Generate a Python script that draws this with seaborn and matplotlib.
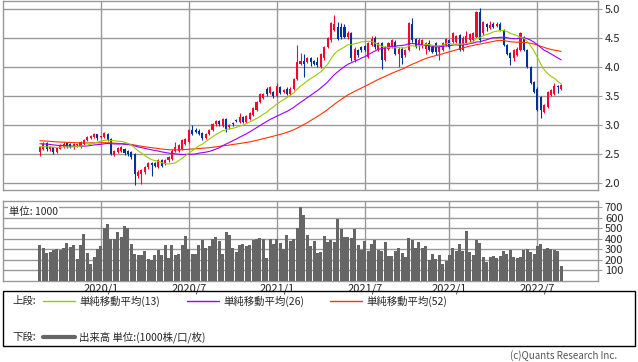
import numpy as np
import pandas as pd
import seaborn as sns
import matplotlib.pyplot as plt
from matplotlib.lines import Line2D
from matplotlib.patches import Rectangle

# weekly candles (left to right)
opens = [2.54, 2.59, 2.69, 2.58, 2.62, 2.54, 2.59, 2.62, 2.69, 2.68, 2.62, 2.65, 2.62, 2.68, 2.74, 2.78, 2.79, 2.84, 2.79, 2.79,
         2.85, 2.76, 2.48, 2.54, 2.56, 2.58, 2.55, 2.54, 2.50, 2.13, 2.16, 2.19, 2.27, 2.35, 2.35, 2.28, 2.39, 2.33, 2.39, 2.42,
         2.56, 2.56, 2.59, 2.68, 2.71, 2.91, 2.91, 2.90, 2.86, 2.78, 2.85, 2.91, 3.01, 3.07, 2.99, 3.11, 2.96, 3.04, 3.09, 3.05,
         3.14, 3.05, 3.11, 3.17, 3.26, 3.40, 3.47, 3.63, 3.55, 3.57, 3.51, 3.65, 3.57, 3.63, 3.54, 3.63, 3.79, 4.06, 4.10, 4.09,
         4.16, 4.11, 4.09, 4.00, 4.15, 4.35, 4.46, 4.64, 4.69, 4.69, 4.69, 4.52, 4.58, 4.12, 4.29, 4.35, 4.36, 4.18, 4.38, 4.51,
         4.30, 4.41, 4.12, 4.32, 4.35, 4.44, 4.23, 4.32, 4.20, 4.29, 4.75, 4.49, 4.38, 4.38, 4.32, 4.42, 4.35, 4.41, 4.26, 4.29,
         4.38, 4.46, 4.44, 4.44, 4.55, 4.30, 4.42, 4.46, 4.46, 4.52, 4.95, 4.58, 4.74, 4.67, 4.75, 4.71, 4.75, 4.64, 4.38, 4.24,
         4.15, 4.21, 4.29, 4.52, 4.29, 4.00, 3.74, 3.63, 3.49, 3.23, 3.31, 3.52, 3.54, 3.67, 3.63]
closes = [2.62, 2.68, 2.59, 2.62, 2.54, 2.60, 2.65, 2.68, 2.62, 2.62, 2.67, 2.66, 2.71, 2.74, 2.80, 2.82, 2.84, 2.77, 2.80, 2.86,
          2.74, 2.50, 2.55, 2.60, 2.62, 2.51, 2.50, 2.45, 2.16, 2.19, 2.22, 2.28, 2.35, 2.31, 2.30, 2.39, 2.30, 2.39, 2.45, 2.56,
          2.62, 2.65, 2.74, 2.76, 2.91, 2.85, 2.88, 2.85, 2.77, 2.85, 2.92, 3.01, 3.07, 3.01, 3.11, 2.94, 3.00, 3.01, 3.07, 3.14,
          3.05, 3.15, 3.20, 3.30, 3.40, 3.53, 3.53, 3.54, 3.65, 3.50, 3.67, 3.55, 3.61, 3.54, 3.63, 3.80, 4.09, 4.10, 4.06, 4.16,
          4.09, 4.06, 4.03, 4.22, 4.35, 4.50, 4.76, 4.75, 4.48, 4.52, 4.52, 4.58, 4.15, 4.32, 4.21, 4.29, 4.30, 4.42, 4.48, 4.35,
          4.41, 4.12, 4.35, 4.42, 4.46, 4.23, 4.32, 4.15, 4.29, 4.76, 4.46, 4.35, 4.46, 4.46, 4.41, 4.29, 4.26, 4.26, 4.35, 4.41,
          4.48, 4.35, 4.58, 4.53, 4.30, 4.51, 4.53, 4.57, 4.58, 4.95, 4.46, 4.78, 4.69, 4.72, 4.69, 4.75, 4.64, 4.38, 4.23, 4.15,
          4.29, 4.32, 4.58, 4.29, 4.00, 3.72, 3.57, 3.26, 3.26, 3.34, 3.57, 3.60, 3.67, 3.65, 3.69]
highs = [2.64, 2.70, 2.71, 2.64, 2.63, 2.62, 2.67, 2.70, 2.71, 2.69, 2.69, 2.68, 2.73, 2.76, 2.81, 2.83, 2.86, 2.85, 2.82, 2.88,
         2.87, 2.77, 2.57, 2.63, 2.64, 2.60, 2.57, 2.56, 2.52, 2.22, 2.24, 2.30, 2.37, 2.36, 2.37, 2.41, 2.42, 2.41, 2.47, 2.58,
         2.71, 2.68, 2.76, 2.78, 2.93, 3.00, 2.95, 2.93, 2.88, 2.87, 2.94, 3.03, 3.09, 3.09, 3.13, 3.13, 3.02, 3.06, 3.11, 3.20,
         3.16, 3.17, 3.22, 3.32, 3.42, 3.55, 3.55, 3.65, 3.67, 3.59, 3.72, 3.67, 3.63, 3.65, 3.65, 3.82, 4.38, 4.24, 4.23, 4.18,
         4.18, 4.13, 4.18, 4.25, 4.37, 4.52, 4.78, 4.90, 4.78, 4.76, 4.74, 4.62, 4.60, 4.34, 4.31, 4.37, 4.38, 4.44, 4.53, 4.53,
         4.43, 4.43, 4.37, 4.44, 4.48, 4.46, 4.34, 4.34, 4.31, 4.78, 4.84, 4.51, 4.50, 4.48, 4.43, 4.46, 4.37, 4.43, 4.37, 4.43,
         4.50, 4.48, 4.60, 4.56, 4.57, 4.53, 4.62, 4.59, 4.60, 4.97, 5.02, 4.80, 4.76, 4.80, 4.77, 4.77, 4.77, 4.66, 4.40, 4.26,
         4.31, 4.34, 4.60, 4.54, 4.31, 4.02, 3.76, 3.65, 3.51, 3.36, 3.59, 3.62, 3.72, 3.69, 3.71]
lows = [2.47, 2.57, 2.56, 2.56, 2.50, 2.52, 2.58, 2.61, 2.60, 2.60, 2.59, 2.62, 2.60, 2.66, 2.72, 2.76, 2.78, 2.75, 2.77, 2.77,
        2.72, 2.48, 2.46, 2.52, 2.54, 2.49, 2.46, 2.42, 1.96, 2.08, 1.99, 2.16, 2.24, 2.12, 2.28, 2.26, 2.28, 2.31, 2.37, 2.40,
        2.54, 2.54, 2.57, 2.66, 2.69, 2.83, 2.86, 2.83, 2.75, 2.76, 2.83, 2.89, 2.99, 2.99, 2.97, 2.88, 2.94, 2.99, 3.05, 3.03,
        3.03, 3.03, 3.09, 3.15, 3.24, 3.38, 3.45, 3.50, 3.53, 3.47, 3.49, 3.53, 3.55, 3.52, 3.52, 3.61, 3.77, 4.04, 3.83, 4.07,
        4.02, 4.03, 4.00, 3.98, 4.13, 4.33, 4.44, 4.62, 4.46, 4.49, 4.50, 4.48, 4.10, 4.08, 4.17, 4.26, 4.27, 4.16, 4.36, 4.32,
        4.28, 3.96, 4.10, 4.30, 4.33, 4.21, 4.00, 4.05, 4.18, 4.27, 4.44, 4.33, 4.30, 4.33, 4.22, 4.27, 4.24, 4.20, 4.12, 4.27,
        4.36, 4.33, 4.42, 4.42, 4.28, 4.28, 4.40, 4.44, 4.44, 4.50, 4.44, 4.56, 4.62, 4.65, 4.67, 4.69, 4.62, 4.36, 4.21, 4.03,
        4.10, 4.19, 4.27, 4.27, 3.98, 3.70, 3.55, 3.24, 3.13, 3.21, 3.29, 3.50, 3.52, 3.56, 3.61]

# weekly closes before the first visible candle (only feed the moving averages)
prior_close = [2.80, 2.78, 2.82, 2.85, 2.83, 2.79, 2.76, 2.80, 2.84, 2.81, 2.77, 2.74, 2.78, 2.80, 2.76, 2.73, 2.75,
               2.79, 2.81, 2.78, 2.74, 2.72, 2.76, 2.79, 2.77, 2.75, 2.74, 2.71, 2.73, 2.77, 2.75, 2.72, 2.70, 2.74,
               2.76, 2.73, 2.71, 2.69, 2.72, 2.66, 2.63, 2.60, 2.64, 2.67, 2.62, 2.59, 2.61, 2.65, 2.63, 2.60, 2.62]

# volume, units of 1000
volume = [340, 315, 268, 280, 290, 300, 290, 310, 365, 320, 340, 210, 340, 450, 270, 165, 230, 300,
          330, 500, 540, 400, 400, 470, 420, 520, 500, 355, 260, 245, 245, 285, 205, 200, 245, 290, 250, 340, 215, 340, 245, 260, 340, 425,
          300, 260, 260, 340, 385, 310, 330, 400, 420, 380, 260, 470, 435, 315, 275, 340, 350, 330, 340, 385, 395, 405, 395, 215, 395, 355,
          400, 360, 300, 435, 380, 395, 500, 700, 630, 440, 335, 380, 270,
          277, 425, 372, 387, 372, 592, 498, 419, 419, 410, 498, 340, 299, 378, 283, 356, 387, 299, 283, 372,
          236, 236, 283, 315, 268, 230, 410, 394, 309, 372, 315, 331, 198, 255, 205, 246, 161, 192, 246, 318,
          287, 350, 283, 472, 277, 246, 387, 365, 230, 183, 230, 236, 220, 236, 283, 261, 293, 230, 220, 230,
          299, 302, 271, 261, 331, 350, 302, 315, 302, 299, 283, 142]

tick_pos = [18, 44, 70, 96, 121, 147]
tick_labels = ["2020/1", "2020/7", "2021/1", "2021/7", "2022/1", "2022/7"]
price_ticks = [2.0, 2.5, 3.0, 3.5, 4.0, 4.5, 5.0]
vol_ticks = [100, 200, 300, 400, 500, 600, 700]

sns.set_style("white")
plt.rcParams['font.family'] = ['Noto Sans CJK JP', 'DejaVu Sans']

df = pd.DataFrame({"open": opens, "high": highs, "low": lows, "close": closes, "vol": volume})
df["x"] = np.arange(len(df))
allc = pd.Series(prior_close + closes)
n0 = len(prior_close)
df["ma13"] = allc.rolling(13).mean().iloc[n0:].values
df["ma26"] = allc.rolling(26).mean().iloc[n0:].values
df["ma52"] = allc.rolling(52).mean().iloc[n0:].values

UP = "#ff0033"
DOWN = "#003399"
GRID = "#999999"

fig = plt.figure(figsize=(6.38, 3.62), dpi=100)
ax = fig.add_axes([3/638, 172/362, 595/638, 189/362])
axv = fig.add_axes([3/638, 81/362, 595/638, 80/362])

xlim = (-10.9, len(df) - 1 + 10.9)

for a in (ax, axv):
    for s in a.spines.values():
        s.set_color(GRID)
        s.set_linewidth(1)
    a.set_xlim(*xlim)
    a.set_xticks(tick_pos)
    a.grid(True, color=GRID, linewidth=1)
    a.set_axisbelow(True)
    a.yaxis.tick_right()
    a.tick_params(axis='y', length=3, color=GRID, labelsize=8, pad=2)
    a.tick_params(axis='x', length=0, labelsize=8, pad=2)

# candles
up = df["close"] >= df["open"]
cols = np.where(up, UP, DOWN)
ax.vlines(df["x"], df["low"], df["high"], colors=cols, linewidth=0.8, zorder=3)
body = np.maximum((df["close"] - df["open"]).abs(), 0.015)
ax.bar(df["x"], body, bottom=np.minimum(df["open"], df["close"]), width=0.62,
       color=cols, linewidth=0, zorder=3)

# moving averages
sns.lineplot(x=df["x"], y=df["ma52"], color="#ff3300", linewidth=0.8, ax=ax, zorder=4)
sns.lineplot(x=df["x"], y=df["ma26"], color="#9900ff", linewidth=0.8, ax=ax, zorder=4)
sns.lineplot(x=df["x"], y=df["ma13"], color="#99cc00", linewidth=0.8, ax=ax, zorder=4)

ax.set_ylim(1.88, 5.14)
ax.set_yticks(price_ticks)
ax.set_yticklabels([f"{t:.1f}" for t in price_ticks])
ax.set_xticklabels([])
ax.set_xlabel("")
ax.set_ylabel("")

# volume panel
axv.bar(df["x"], df["vol"], width=0.88, color="#666666", linewidth=0, zorder=3)
axv.set_ylim(0, 760)
axv.set_yticks(vol_ticks)
axv.set_xticklabels(tick_labels)
axv.text(0.01, 0.93, "単位: 1000", transform=axv.transAxes, fontsize=7.5, va="top", ha="left",
         bbox=dict(facecolor="white", edgecolor="none", pad=0.5), zorder=5)

# legend box
fig.add_artist(Rectangle((3/638, 16/362), 632/638, 55/362, transform=fig.transFigure,
                         fill=False, edgecolor="black", linewidth=1))
y1 = (362 - 301) / 362
y2 = (362 - 337) / 362
fs = 7.5
fig.text(12/638, y1, "上段:", fontsize=fs, va="center")
items = [(43, "#99cc00", "単純移動平均(13)"), (187, "#9900ff", "単純移動平均(26)"), (330, "#ff3300", "単純移動平均(52)")]
for x0, c, lab in items:
    fig.add_artist(Line2D([x0/638, (x0 + 32)/638], [y1, y1], transform=fig.transFigure, color=c, linewidth=1))
    fig.text((x0 + 36)/638, y1, lab, fontsize=fs, va="center")
fig.text(12/638, y2, "下段:", fontsize=fs, va="center")
fig.add_artist(Line2D([43/638, 75/638], [y2, y2], transform=fig.transFigure, color="#666666", linewidth=3))
fig.text(79/638, y2, "出来高 単位:(1000株/口/枚)", fontsize=fs, va="center")

fig.text(617/638, 6/362, "(c)Quants Research Inc.", fontsize=7, color="#555555", ha="right", va="center")

fig.savefig("out.png", dpi=100)
